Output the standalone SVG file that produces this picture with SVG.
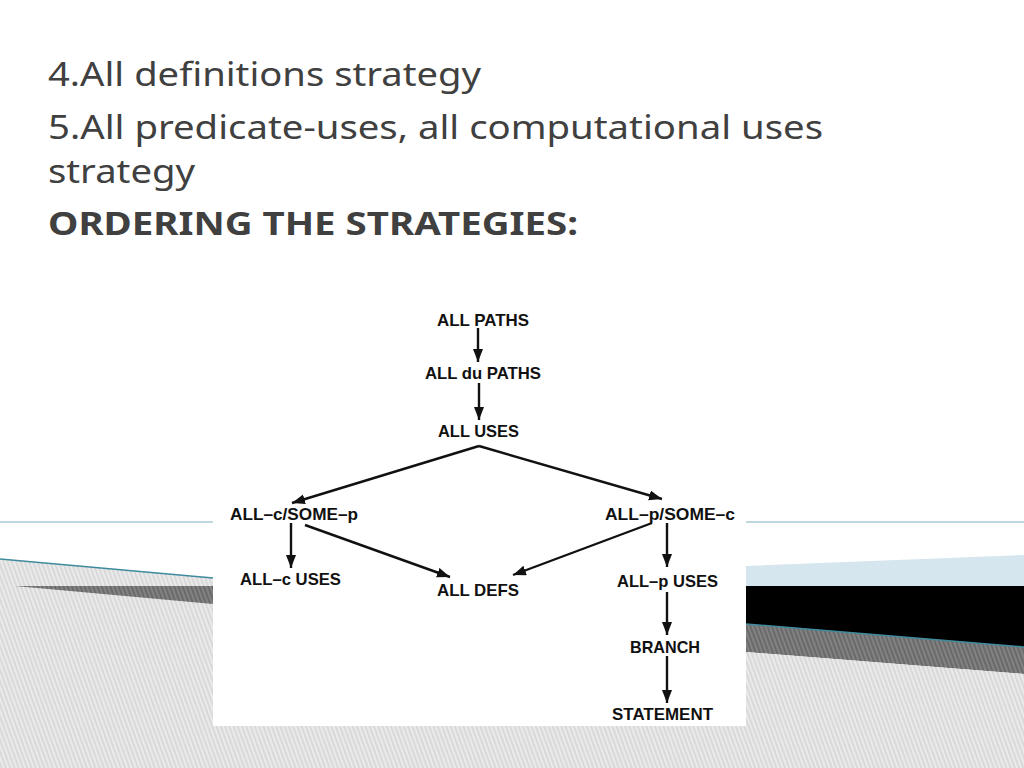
<svg xmlns="http://www.w3.org/2000/svg" width="1024" height="768" viewBox="0 0 1024 768">
<style>
.hd{font-family:"Noto Sans","Open Sans","DejaVu Sans",sans-serif;font-size:33px;fill:#404040}
.hb{font-weight:bold}
.nd{font-family:"Liberation Sans",Arial,sans-serif;font-size:17px;font-weight:bold;fill:#111}
.cn{stroke:#111;stroke-width:2.4;fill:none;marker-end:url(#ah)}
</style>
<defs>
<pattern id="hl" patternUnits="userSpaceOnUse" width="4" height="4" patternTransform="rotate(-20)">
<rect width="4" height="4" fill="#d9d9d9"/>
<line x1="1" y1="0" x2="1" y2="4" stroke="#f2f2f2" stroke-width="1.4"/>
</pattern>
<pattern id="hd" patternUnits="userSpaceOnUse" width="4" height="4" patternTransform="rotate(-20)">
<rect width="4" height="4" fill="#6a6a6a"/>
<line x1="1" y1="0" x2="1" y2="4" stroke="#8c8c8c" stroke-width="1.4"/>
</pattern>
<marker id="ah" markerUnits="userSpaceOnUse" markerWidth="14" markerHeight="11" refX="13" refY="5" orient="auto">
<path d="M0,0 L13,5 L0,10 z" fill="#111"/>
</marker>
</defs>
<rect width="1024" height="768" fill="#fff"/>
<g id="background">
<path d="M0,559 L213,578 L213,768 L0,768 z" fill="url(#hl)"/>
<path d="M15,586 L213,586 L213,604 z" fill="url(#hd)"/>
<line x1="0" y1="559" x2="213" y2="578" stroke="#3f8a9c" stroke-width="1.5"/>
<line x1="0" y1="522" x2="1024" y2="522" stroke="#7fb0bf" stroke-width="1"/>
<path d="M746,566 L1024,555 L1024,586 L746,586 z" fill="#d6e6ee"/>
<path d="M746,586 L1024,586 L1024,647 L746,624 z" fill="#000"/>
<path d="M746,624 L1024,647 L1024,674 L746,652 z" fill="url(#hd)"/>
<line x1="746" y1="624" x2="1024" y2="647" stroke="#3f8a9c" stroke-width="1.5"/>
<path d="M746,652 L1024,674 L1024,768 L746,768 z" fill="url(#hl)"/>
<rect x="0" y="726" width="1024" height="42" fill="url(#hl)"/>
<rect x="213" y="290" width="533" height="436" fill="#fff"/>
</g>
<g id="heading">
<text class="hd" x="48" y="86" textLength="433" lengthAdjust="spacingAndGlyphs">4.All definitions strategy</text>
<text class="hd" x="48" y="139" textLength="775" lengthAdjust="spacingAndGlyphs">5.All predicate-uses, all computational uses</text>
<text class="hd" x="48" y="183" textLength="147" lengthAdjust="spacingAndGlyphs">strategy</text>
<text class="hd hb" x="48" y="235" textLength="530" lengthAdjust="spacingAndGlyphs">ORDERING THE STRATEGIES:</text>
</g>
<g id="connectors">
<line class="cn" x1="478" y1="328" x2="478" y2="362"/>
<line class="cn" x1="479" y1="383" x2="479" y2="420"/>
<line class="cn" x1="479" y1="446" x2="292" y2="503"/>
<line class="cn" x1="479" y1="446" x2="662" y2="499"/>
<line class="cn" x1="291" y1="523" x2="291" y2="568"/>
<line class="cn" x1="305" y1="525" x2="450" y2="577"/>
<line class="cn" x1="652" y1="523" x2="513" y2="575"/>
<line class="cn" x1="667" y1="523" x2="667" y2="567"/>
<line class="cn" x1="667" y1="592" x2="667" y2="635"/>
<line class="cn" x1="667" y1="656" x2="667" y2="703"/>
</g>
<g id="n-allpaths"><text class="nd" x="437" y="326" textLength="92" lengthAdjust="spacingAndGlyphs">ALL PATHS</text></g>
<g id="n-alldupaths"><text class="nd" x="425" y="379" textLength="116" lengthAdjust="spacingAndGlyphs">ALL du PATHS</text></g>
<g id="n-alluses"><text class="nd" x="438" y="437" textLength="81" lengthAdjust="spacingAndGlyphs">ALL USES</text></g>
<g id="n-allc-somep"><text class="nd" x="230" y="520" textLength="128" lengthAdjust="spacingAndGlyphs">ALL–c/SOME–p</text></g>
<g id="n-allp-somec"><text class="nd" x="605" y="520" textLength="130" lengthAdjust="spacingAndGlyphs">ALL–p/SOME–c</text></g>
<g id="n-allcuses"><text class="nd" x="240" y="585" textLength="101" lengthAdjust="spacingAndGlyphs">ALL–c USES</text></g>
<g id="n-alldefs"><text class="nd" x="437" y="596" textLength="82" lengthAdjust="spacingAndGlyphs">ALL DEFS</text></g>
<g id="n-allpuses"><text class="nd" x="617" y="587" textLength="101" lengthAdjust="spacingAndGlyphs">ALL–p USES</text></g>
<g id="n-branch"><text class="nd" x="630" y="653" textLength="70" lengthAdjust="spacingAndGlyphs">BRANCH</text></g>
<g id="n-statement"><text class="nd" x="612" y="720" textLength="101" lengthAdjust="spacingAndGlyphs">STATEMENT</text></g>
</svg>
